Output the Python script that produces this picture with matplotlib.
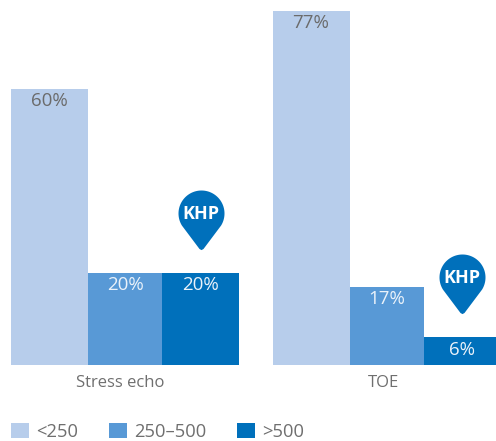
import numpy as np
import matplotlib
matplotlib.use("Agg")
import matplotlib.pyplot as plt
from matplotlib.path import Path
from matplotlib.patches import Patch
from matplotlib.transforms import ScaledTranslation

categories = ["Stress echo", "TOE"]
series_names = ["<250", "250–500", ">500"]
lt250 = [60, 77]
mid = [20, 17]
gt500 = [20, 6]
khp_values = [20, 6]
khp_label = "KHP"

colors = ["#b7cdeb", "#5899d6", "#0070bb"]
label_colors = ["#6b6b6b", "#eaf2fa", "#eaf2fa"]
TEXT = "#6f6f6f"

plt.rcParams["font.family"] = ["Open Sans", "DejaVu Sans"]
W, H = 496, 441
fig = plt.figure(figsize=(W / 100, H / 100), dpi=100)
base_px = 365
ax = fig.add_axes([0, (H - base_px) / H, 1, base_px / H])
unit = 261.5
ax.set_xlim(-125 / unit, (W - 125) / unit)
ax.set_ylim(0, base_px / 4.6)
ax.patch.set_alpha(0)
for s in ax.spines.values():
    s.set_visible(False)
ax.set_yticks([])
x = np.arange(len(categories))
ax.set_xticks(x, categories, fontsize=12)
ax.tick_params(axis="x", length=0, pad=7, labelcolor=TEXT)
ax.get_xticklabels()[0].set_transform(
    ax.get_xticklabels()[0].get_transform() + ScaledTranslation(-4.5 / 100, 0, fig.dpi_scale_trans))
ax.get_xticklabels()[1].set_transform(
    ax.get_xticklabels()[1].get_transform() + ScaledTranslation(-2.5 / 100, 0, fig.dpi_scale_trans))

step = 75.5 / unit
widths = [77 / unit, 74 / unit, 77 / unit]
for i, (vals, c, lc, w) in enumerate(zip([lt250, mid, gt500], colors, label_colors, widths)):
    pos = x + (i - 1) * step
    ax.bar(pos, vals, width=w, color=c, linewidth=0)
    for px, v in zip(pos, vals):
        ax.annotate(f"{v}%", (px, v), xytext=(0, -9), textcoords="offset points",
                    ha="center", va="center", fontsize=13.5, color=lc)

# map-pin marker with its tip at the origin
r, d = 23, 37
a = np.arcsin(r / d)
th = np.linspace(-np.pi / 2 + a + 0.35, 3 * np.pi / 2 - a - 0.35, 80)
vx = r * np.cos(th)
vy = d + r * np.sin(th)
tip = [[-2, 1.5], [0, 0.4], [2, 1.5]]
verts = np.vstack([np.column_stack([vx, vy]), tip, [[vx[0], vy[0]]]])
codes = [Path.MOVETO] + [Path.LINETO] * (len(verts) - 2) + [Path.CLOSEPOLY]
pin = Path(verts, codes)
ms = 2 * verts[:, 1].max() * 72 / 100

for px, v in zip(x + step, khp_values):
    ax.plot([px], [v + 5], marker=pin, markersize=ms, color=colors[2], mew=0, clip_on=False)
    ax.annotate(khp_label, (px, v + 5), xytext=(0, 26), textcoords="offset points",
                ha="center", va="center", fontsize=13, fontweight="bold", color="white")

handles = [Patch(color=c, linewidth=0) for c in colors]
fs = 13.2
fig.legend(handles, series_names, loc="lower left", bbox_to_anchor=(11 / W, 0),
           ncol=3, frameon=False, fontsize=fs, labelcolor=TEXT, borderpad=0, borderaxespad=0,
           handlelength=13 / fs, handleheight=12.2 / fs, handletextpad=5 / fs,
           columnspacing=22.3 / fs)
fig.savefig("out.png", dpi=100)
